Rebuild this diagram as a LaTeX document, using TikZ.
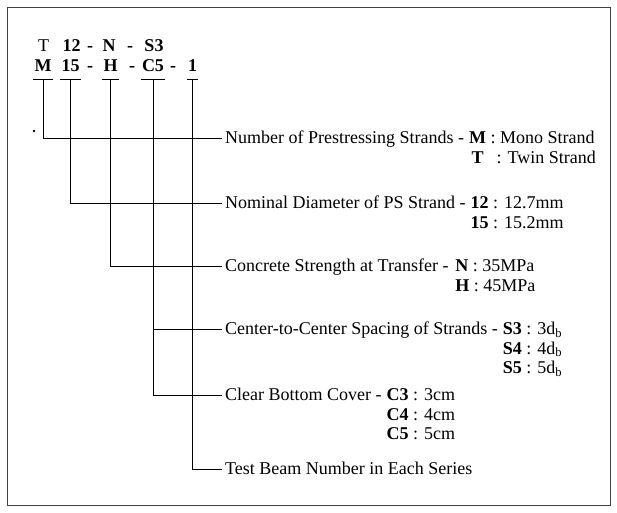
\documentclass[tikz,border=0pt]{standalone}
\usepackage{fontspec}
\setmainfont{Liberation Serif}
\usetikzlibrary{positioning}

\begin{document}
\begin{tikzpicture}[x=1pt, y=-1pt,
  font=\fontsize{18}{19.5}\selectfont,
  code/.style={inner xsep=1pt, inner ysep=0pt, anchor=base,
    font=\fontsize{18}{19.5}\selectfont\bfseries},
  desc/.style={inner xsep=3pt, inner ysep=0pt, anchor=base west},
  lead/.style={line width=0.8pt},
  frame/.style={line width=1pt, draw=black!75}]
  \useasboundingbox (0,0) rectangle (617,512);
  %% 1. Frame
  \draw[frame] (7,7) rectangle (610,505);
  %% 2. Designation rows
  \node[code, font=\fontsize{18}{19.5}\selectfont] (tT) at (43.5,51) {T};
  \node[code] (t12) at (71.5,51) {12};
  \node[code] (tA) at (90,51) {-};
  \node[code] (tN) at (109,51) {N};
  \node[code] (tB) at (130,51) {-};
  \node[code] (tS3) at (154,51) {S3};
  \node[code] (cM) at (43,71) {M};
  \node[code] (c15) at (70.5,71) {15};
  \node[code] (cA) at (90,71) {-};
  \node[code] (cH) at (110.5,71) {H};
  \node[code] (cB) at (132,71) {-};
  \node[code] (cC5) at (153,71) {C5};
  \node[code] (cD) at (173,71) {-};
  \node[code] (c1) at (192.5,71) {1};
  %% 3. Explanations
  \node[desc] (dNum) at (222,143.5) {\begin{tabular}[t]{@{}l@{\hspace{5pt}}l@{}}
    Number of Prestressing Strands - & \textbf{M} : Mono Strand\\
    & \textbf{\makebox[0.944em]{T}}\hspace{6pt} : Twin Strand\end{tabular}};
  \node[desc] (dDia) at (222,208.5) {\begin{tabular}[t]{@{}l@{\hspace{5pt}}l@{}}
    Nominal Diameter of PS Strand - & \textbf{12} : 12.7mm\\
    & \textbf{15} : 15.2mm\end{tabular}};
  \node[desc] (dCon) at (222,271.5) {\begin{tabular}[t]{@{}l@{\hspace{7pt}}l@{}}
    Concrete Strength at Transfer - & \textbf{N} : 35MPa\\
    & \textbf{H} : 45MPa\end{tabular}};
  \node[desc] (dSpa) at (222,334.5) {\begin{tabular}[t]{@{}l@{\hspace{5pt}}l@{}}
    Center-to-Center Spacing of Strands - & \textbf{S3} : 3d\textsubscript{b}\\
    & \textbf{S4} : 4d\textsubscript{b}\\
    & \textbf{S5} : 5d\textsubscript{b}\end{tabular}};
  \node[desc] (dCov) at (222,400.5) {\begin{tabular}[t]{@{}l@{\hspace{5pt}}l@{}}
    Clear Bottom Cover - & \textbf{C3} : 3cm\\
    & \textbf{C4} : 4cm\\
    & \textbf{C5} : 5cm\end{tabular}};
  \node[desc] (dBeam) at (222,474.5) {Test Beam Number in Each Series};
  \foreach \d/\l in {dNum/lNum, dDia/lDia, dCon/lCon, dSpa/lSpa, dCov/lCov, dBeam/lBeam}
    \coordinate (\l) at ([yshift=5.5pt]\d.base west);
  %% 4. Underlines and leaders
  \foreach \c in {cM, c15, cH, cC5, c1}
    \draw[lead] (\c.west |- 0,79) -- (\c.east |- 0,79);
  \draw[lead] (cM |- 0,79) |- (lNum);
  \draw[lead] (c15 |- 0,79) |- (lDia);
  \draw[lead] (cH |- 0,79) |- (lCon);
  \draw[lead] (cC5 |- 0,79) |- (lCov);
  \draw[lead] (cC5 |- lSpa) -- (lSpa);
  \draw[lead] (c1 |- 0,79) |- (lBeam);
  \fill (34,131) circle (1.3);
\end{tikzpicture}
\end{document}
